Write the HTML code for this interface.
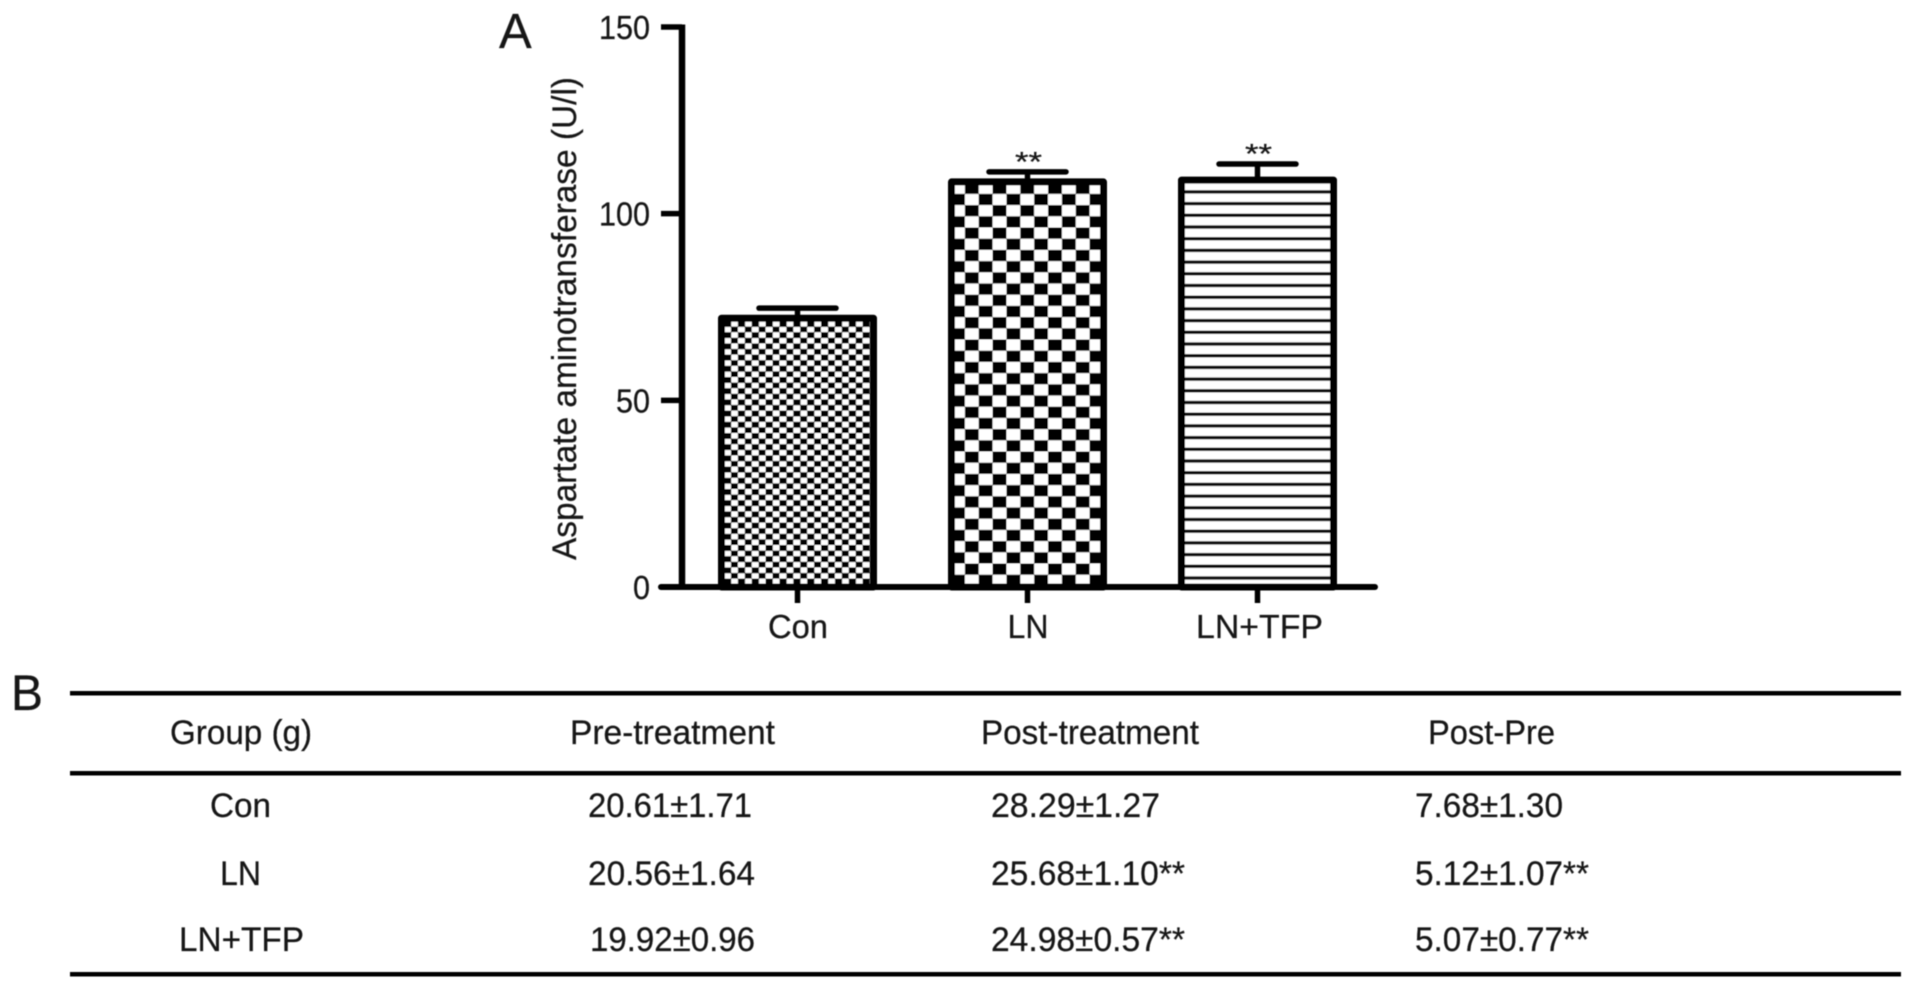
<!DOCTYPE html>
<html lang="en">
<head>
<meta charset="utf-8">
<title>Aspartate aminotransferase chart and body weight table</title>
<style>
html,body{margin:0;padding:0;background:#fff;width:1913px;height:989px;overflow:hidden}
svg{display:block}
text{font-family:"Liberation Sans",Arial,sans-serif;fill:#161616;stroke:#161616;stroke-width:.25}
</style>
</head>
<body>
<svg id="figure" xmlns="http://www.w3.org/2000/svg" width="1913" height="989" viewBox="0 0 1913 989">
  <defs>
    <filter id="soft" x="-2%" y="-2%" width="104%" height="104%"><feGaussianBlur stdDeviation="0.65"/></filter>
    <pattern id="pat-fine" patternUnits="userSpaceOnUse" x="724" y="321" width="13.86" height="11.2">
      <rect width="13.86" height="11.2" fill="#fff"/>
      <rect x="0" y="0" width="7.2" height="5.9" fill="#000"/>
      <rect x="6.93" y="5.6" width="7.2" height="5.9" fill="#000"/>
    </pattern>
    <pattern id="pat-check" patternUnits="userSpaceOnUse" x="951" y="182.7" width="27.72" height="22.4">
      <rect width="27.72" height="22.4" fill="#fff"/>
      <rect x="13.86" y="0" width="13.86" height="11.2" fill="#000"/>
      <rect x="0" y="11.2" width="13.86" height="11.2" fill="#000"/>
    </pattern>
    <pattern id="pat-lines" patternUnits="userSpaceOnUse" x="0" y="190.2" width="10" height="11.7">
      <rect width="10" height="11.7" fill="#fff"/>
      <rect x="0" y="0" width="10" height="3.4" fill="#111"/>
    </pattern>
  </defs>

  <g id="chart" filter="url(#soft)"></g>

  <g id="table" filter="url(#soft)" font-size="34">
    <text x="11" y="710" font-size="50" textLength="32" lengthAdjust="spacingAndGlyphs">B</text>
    <rect x="70" y="691" width="1831" height="4.5" fill="#000"/>
    <rect x="70" y="771" width="1831" height="4.5" fill="#000"/>
    <rect x="70" y="972" width="1831" height="4.5" fill="#000"/>

    <text x="170" y="744" textLength="142" lengthAdjust="spacingAndGlyphs">Group (g)</text>
    <text x="570" y="744" textLength="205" lengthAdjust="spacingAndGlyphs">Pre-treatment</text>
    <text x="981" y="744" textLength="218" lengthAdjust="spacingAndGlyphs">Post-treatment</text>
    <text x="1428" y="744" textLength="127" lengthAdjust="spacingAndGlyphs">Post-Pre</text>

    <text x="210" y="817" textLength="61" lengthAdjust="spacingAndGlyphs">Con</text>
    <text x="588" y="817" textLength="164" lengthAdjust="spacingAndGlyphs">20.61±1.71</text>
    <text x="991" y="817" textLength="169" lengthAdjust="spacingAndGlyphs">28.29±1.27</text>
    <text x="1415" y="817" textLength="148" lengthAdjust="spacingAndGlyphs">7.68±1.30</text>

    <text x="220" y="885" textLength="41" lengthAdjust="spacingAndGlyphs">LN</text>
    <text x="588" y="885" textLength="167" lengthAdjust="spacingAndGlyphs">20.56±1.64</text>
    <text x="991" y="885" textLength="194" lengthAdjust="spacingAndGlyphs">25.68±1.10**</text>
    <text x="1415" y="885" textLength="174" lengthAdjust="spacingAndGlyphs">5.12±1.07**</text>

    <text x="179" y="951" textLength="125" lengthAdjust="spacingAndGlyphs">LN+TFP</text>
    <text x="590" y="951" textLength="165" lengthAdjust="spacingAndGlyphs">19.92±0.96</text>
    <text x="991" y="951" textLength="194" lengthAdjust="spacingAndGlyphs">24.98±0.57**</text>
    <text x="1415" y="951" textLength="174" lengthAdjust="spacingAndGlyphs">5.07±0.77**</text>
  </g>
</svg>

<script>
const categories = ['Con', 'LN', 'LN+TFP'];
const barValues = [72, 108.5, 109];
const errorValues = [2.7, 2.7, 4.3];
const significance = ['', '**', '**'];
const yTickValues = [0, 50, 100, 150];
const yTitle = 'Aspartate aminotransferase (U/l)';
const panelLabel = 'A';

const NS = 'http://www.w3.org/2000/svg';
const chart = document.getElementById('chart');
const fills = ['url(#pat-fine)', 'url(#pat-check)', 'url(#pat-lines)'];
const labelWidths = [60, 41, 127];

function yScale(v) { return 587 - v * (560 / 150); }
function xScale(i) { return 797.5 + 230 * i; }

function make(tag, props) {
  const el = document.createElementNS(NS, tag);
  for (const k in props) el.setAttribute(k, props[k]);
  chart.appendChild(el);
  return el;
}

/* panel label */
const panel = make('text', { x: 499, y: 48, 'font-size': 49 });


panel.textContent = panelLabel;

/* y axis title */
const title = make('text', { x: 0, y: 0, 'font-size': 34, textLength: 483, lengthAdjust: 'spacingAndGlyphs', transform: 'translate(576 560) rotate(-90)' });


title.textContent = yTitle;

/* bars */
categories.forEach(function (cat, i) {
  const cx = xScale(i);
  const top = yScale(barValues[i]);
  const errTop = yScale(barValues[i] + errorValues[i]);

  const stem = make('line', { x1: cx, x2: cx, y1: errTop, y2: top, stroke: '#000', 'stroke-width': 5.5 });
  
  

  const cap = make('line', { x1: cx - 38.5, x2: cx + 38.5, y1: errTop, y2: errTop, stroke: '#000', 'stroke-width': 5.5, 'stroke-linecap': 'round' });
  
  

  const bar = make('rect', { x: cx - 76, y: top, width: 152, height: yScale(0) - top, fill: fills[i], stroke: '#000', 'stroke-width': 7, 'stroke-linejoin': 'round' });
  
  

  if (significance[i]) {
    const star = make('text', { x: cx + 1, y: errTop - 1, 'font-size': 28, 'text-anchor': 'middle', textLength: 27, lengthAdjust: 'spacingAndGlyphs' });
    
    
    star.textContent = significance[i];
  }

  const tick = make('line', { x1: cx, x2: cx, y1: yScale(0), y2: 603, stroke: '#000', 'stroke-width': 5.5 });
  
  

  const label = make('text', { x: cx + (i === 2 ? 2 : 0.5), y: 638, 'font-size': 33, 'text-anchor': 'middle', textLength: labelWidths[i], lengthAdjust: 'spacingAndGlyphs' });
  
  
  label.textContent = cat;
});

/* y axis */
const yAxis = make('line', { x1: 682, x2: 682, y1: yScale(150) - 2.5, y2: yScale(0), stroke: '#000', 'stroke-width': 6.5 });



yTickValues.forEach(function (v) {
  const py = yScale(v);
  const tick = make('line', { x1: 661, x2: 682, y1: py, y2: py, stroke: '#000', 'stroke-width': 5.5 });
  
  

  const label = make('text', { x: 650, y: py + 12, 'font-size': 33, 'text-anchor': 'end', textLength: String(v).length * 17, lengthAdjust: 'spacingAndGlyphs' });
  
  
  label.textContent = String(v);
});

/* x axis */
const xAxis = make('line', { x1: 661, x2: 1375, y1: yScale(0), y2: yScale(0), stroke: '#000', 'stroke-width': 6, 'stroke-linecap': 'round' });


</script>
</body>
</html>
